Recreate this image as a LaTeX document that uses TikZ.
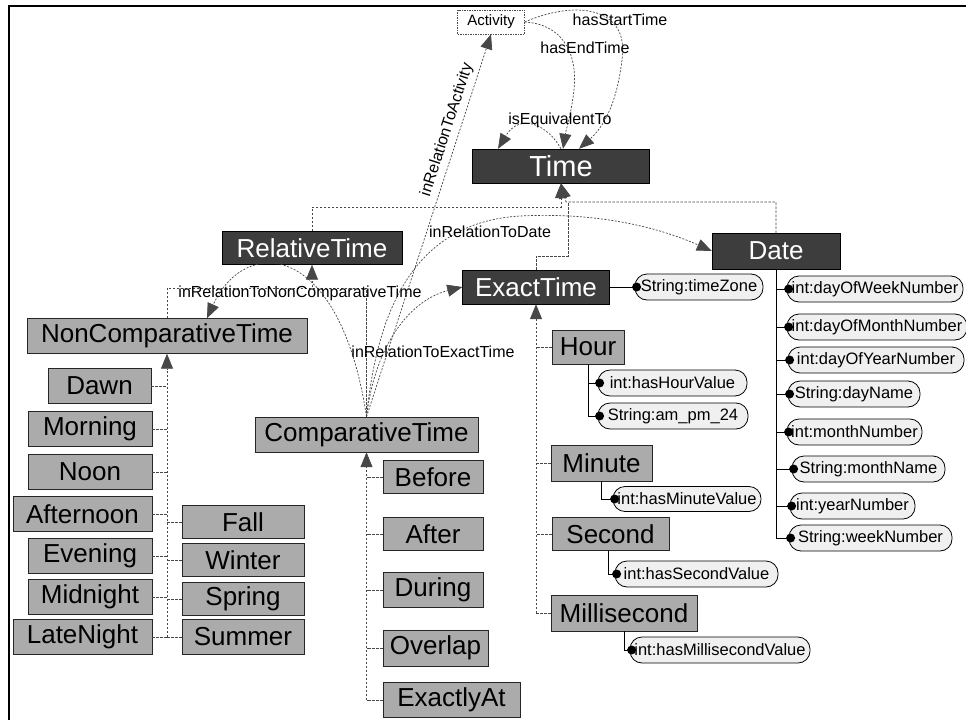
\documentclass[tikz,border=0pt]{standalone}
\usepackage{fontspec}
\setmainfont{Liberation Sans}
\usetikzlibrary{arrows.meta}
\begin{document}
\begin{tikzpicture}[x=1pt,y=-1pt,
  >={Triangle[length=15pt,width=12pt]},
  boxtext/.style={font=\fontsize{26}{28}\selectfont, inner sep=0pt},
  darkbox/.style={boxtext, draw=black, fill=black!76, text=white, minimum height=34pt},
  lightbox/.style={boxtext, draw=black!85, fill=black!33, text=black, minimum height=35pt},
  attr/.style={draw=black, line width=0.8pt, fill=black!6, rounded corners=12pt, inner sep=0pt,
    minimum height=26pt, font=\fontsize{16.5}{18}\selectfont},
  edgelabel/.style={font=\fontsize{16}{18}\selectfont, inner sep=0pt},
  sub/.style={draw=black!72, line width=0.8pt, dash pattern=on 2.5pt off 1.5pt},
  rel/.style={draw=black!72, line width=0.7pt, dash pattern=on 2pt off 1.5pt},
  attrline/.style={draw=black, line width=1pt},
  dot/.style={fill=black}]
\useasboundingbox (0,0) rectangle (966,720);

% frame
\draw[line width=1.2pt] (9,720) -- (9,6) -- (966,6);

% ---------- core classes ----------
\node[darkbox, minimum width=177pt, font=\fontsize{29}{30}\selectfont] (time) at (561,166) {Time};
\node[darkbox, minimum width=180pt, minimum height=33pt] (relative) at (312,248) {RelativeTime};
\node[darkbox, minimum width=147pt] (exact) at (536,287) {ExactTime};
\node[darkbox, minimum width=128pt, minimum height=36pt] (date) at (776,251) {Date};
\node[draw=black!70, dash pattern=on 1.5pt off 1pt, fill=white, minimum width=67pt, minimum height=24pt,
  inner sep=0pt, font=\fontsize{15}{16}\selectfont] (activity) at (491,22) {Activity};

% ---------- non comparative time ----------
\node[lightbox, minimum width=280pt] (noncomp) at (167,336) {NonComparativeTime};
\node[lightbox, minimum width=103pt] (dawn) at (99.5,386) {Dawn};
\node[lightbox, minimum width=124pt] (morning) at (90,429) {Morning};
\node[lightbox, minimum width=124pt] (noon) at (90,472) {Noon};
\node[lightbox, minimum width=139pt] (afternoon) at (82.5,514) {Afternoon};
\node[lightbox, minimum width=124pt] (evening) at (90,556) {Evening};
\node[lightbox, minimum width=124pt] (midnight) at (90,597) {Midnight};
\node[lightbox, minimum width=139pt] (latenight) at (82.5,637) {LateNight};
\node[lightbox, minimum width=122pt, minimum height=33pt] (fall) at (243,522) {Fall};
\node[lightbox, minimum width=122pt, minimum height=33pt] (winter) at (243,560) {Winter};
\node[lightbox, minimum width=122pt, minimum height=33pt] (spring) at (243,599) {Spring};
\node[lightbox, minimum width=122pt] (summer) at (243,637) {Summer};

% ---------- comparative time ----------
\node[lightbox, minimum width=223pt] (comparative) at (366.5,434.5) {ComparativeTime};
\node[lightbox, minimum width=100pt, minimum height=33pt] (before) at (433,477) {Before};
\node[lightbox, minimum width=100pt, minimum height=33pt] (after) at (433,534) {After};
\node[lightbox, minimum width=100pt] (during) at (433,590) {During};
\node[lightbox, minimum width=105pt, minimum height=36pt] (overlap) at (435.5,648) {Overlap};
\node[lightbox, minimum width=137pt] (exactlyat) at (451.5,700) {ExactlyAt};

% ---------- exact time units ----------
\node[lightbox, minimum width=72pt, minimum height=34pt] (hour) at (588,347) {Hour};
\node[lightbox, minimum width=101pt, minimum height=36pt] (minute) at (601.5,463) {Minute};
\node[lightbox, minimum width=117pt, minimum height=33pt] (second) at (610.5,534) {Second};
\node[lightbox, minimum width=146pt, minimum height=36pt] (millisecond) at (624,613) {Millisecond};

% ---------- datatype properties ----------
\node[attr, minimum width=128pt] (timezone) at (699,287) {String:timeZone};
\node[attr, minimum width=149pt] (hourval) at (672.5,383) {int:hasHourValue};
\node[attr, minimum width=150pt] (ampm) at (673,416) {String:am\_pm\_24};
\node[attr, minimum width=148pt, minimum height=25pt] (minval) at (687,499) {int:hasMinuteValue};
\node[attr, minimum width=163pt] (secval) at (696.5,574) {int:hasSecondValue};
\node[attr, minimum width=180pt] (msval) at (720,650) {int:hasMillisecondValue};
\node[attr, minimum width=176pt] (dow) at (875,289) {int:dayOfWeekNumber};
\node[attr, minimum width=180pt] (dom) at (877,327) {int:dayOfMonthNumber};
\node[attr, minimum width=176pt] (doy) at (876,360) {int:dayOfYearNumber};
\node[attr, minimum width=132pt] (dayname) at (854,394) {String:dayName};
\node[attr, minimum width=135pt] (monthnum) at (854.5,432) {int:monthNumber};
\node[attr, minimum width=153pt] (monthname) at (868.5,469) {String:monthName};
\node[attr, minimum width=125pt] (yearnum) at (852.5,506) {int:yearNumber};
\node[attr, minimum width=163pt] (weeknum) at (870.5,538) {String:weekNumber};

% ---------- subclass links ----------
\coordinate (tj) at (561,207);
\coordinate (rj) at (312,288);
\draw[sub,->] (relative.north) |- (tj) -- (time.south);
\draw[sub,->] (date.north) |- (566,202) -- (time.south);
\draw[sub] (exact.north) -- (536,256) -- (568,256) -- (568,202);
\draw[sub,->] (noncomp.north) |- (rj) -- (relative.south);
\draw[sub] (comparative.north) |- (rj);

\draw[sub,->] (latenight.east -| noncomp.south) -- (noncomp.south);
\foreach \n in {dawn,morning,noon,afternoon,evening,midnight,latenight}
  \draw[sub] (\n.east) -- (\n.east -| noncomp.south);
\foreach \n in {fall,winter,spring,summer}
  \draw[sub] (\n.west) -- (\n.west -| noncomp.south);

\draw[sub,->] (exactlyat.west -| comparative.south) -- (comparative.south);
\foreach \n in {before,after,during,overlap,exactlyat}
  \draw[sub] (\n.west) -- (\n.west -| comparative.south);

\draw[sub,->] (millisecond.west -| exact.south) -- (exact.south);
\foreach \n in {hour,minute,second,millisecond}
  \draw[sub] (\n.west) -- (\n.west -| exact.south);

% ---------- datatype property links ----------
\draw[attrline] (exact.east) -- (timezone.west);
\draw[attrline] (hour.south) |- (hourval.west);
\draw[attrline] (hour.south) |- (ampm.west);
\draw[attrline] (minute.south) |- (minval.west);
\draw[attrline] ([xshift=-2pt]second.south) |- (secval.west);
\draw[attrline] (millisecond.south) |- (msval.west);
\draw[attrline] (date.south) -- (date.south |- weeknum.west);
\foreach \n in {dow,dom,doy,dayname,monthnum,monthname,yearnum,weeknum}
  \draw[attrline] (date.south |- \n.west) -- (\n.west);
\foreach \n in {timezone,hourval,ampm,minval,secval,msval,dow,dom,doy,dayname,monthnum,monthname,yearnum,weeknum}
  \fill[dot] ([xshift=2pt]\n.west) circle (4.5pt);

% ---------- object property links ----------
\draw[rel,->] (activity.east) .. controls (575,0) and (630,6) .. (622,60)
  .. controls (616,110) and (600,130) .. ([xshift=18pt]time.north);
\node[edgelabel] (lstart) at (620,20) {hasStartTime};

\draw[rel,->] (activity.east) .. controls (560,24) and (578,50) .. (574,90)
  .. controls (571,115) and (566,130) .. ([xshift=2pt]time.north);
\node[edgelabel] (lend) at (585,48) {hasEndTime};

\draw[rel,->] (time.north) .. controls (548,125) and (520,112) .. ([xshift=-63pt]time.north);
\node[edgelabel] (lequiv) at (560,120) {isEquivalentTo};

\draw[rel,->] (comparative.north) -- (activity.south);
\node[edgelabel, rotate=72] (lact) at (447,130) {inRelationToActivity};

\draw[rel,->] (comparative.north) .. controls (340,240) and (245,235) .. ([xshift=40pt]noncomp.north);
\node[edgelabel] (lnon) at (300,293) {inRelationToNonComparativeTime};

\draw[rel,->] (comparative.north) .. controls (375,345) and (410,300) .. (exact.west);
\node[edgelabel] (lexact) at (433,352) {inRelationToExactTime};

\draw[rel,->] (comparative.north) .. controls (378,300) and (420,222) .. (520,216)
  .. controls (600,212) and (660,228) .. (date.west);
\node[edgelabel] (ldate) at (490,232) {inRelationToDate};
\end{tikzpicture}
\end{document}
